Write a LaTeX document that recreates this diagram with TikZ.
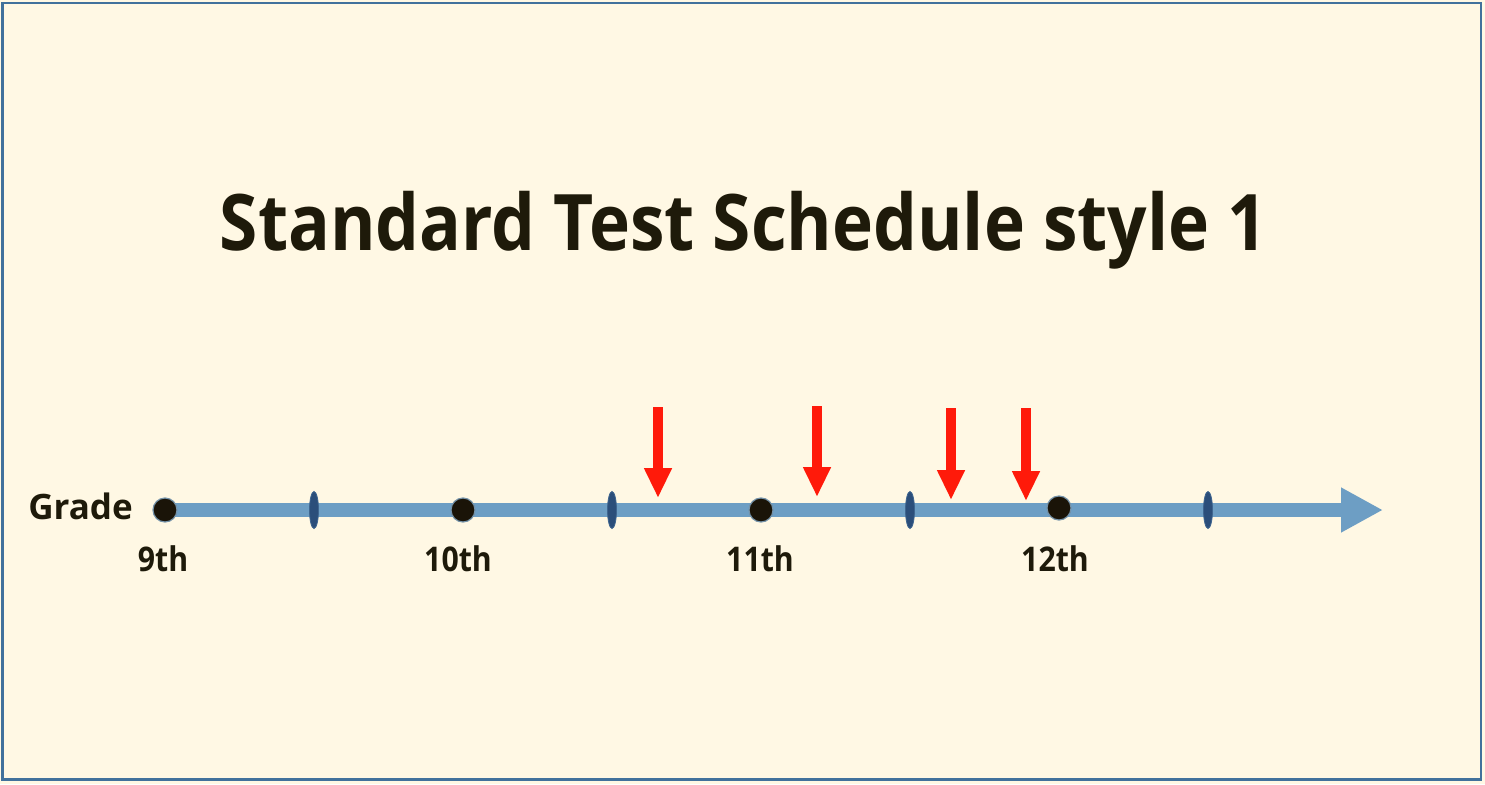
\documentclass[tikz,border=0pt]{standalone}
\usepackage{graphicx}
\usepackage{fontspec}
\setmainfont{Open Sans}
\usetikzlibrary{arrows.meta,shapes.geometric}
\definecolor{bg}{HTML}{FFF8E4}
\definecolor{frame}{HTML}{41719C}
\definecolor{axis}{HTML}{6D9EC4}
\definecolor{tickc}{HTML}{2B4E7A}
\definecolor{dotc}{HTML}{1A1408}
\definecolor{txt}{HTML}{1E1A0A}
\definecolor{redc}{HTML}{FF1A0A}
\newcommand{\narrow}[1]{\scalebox{0.89}[1]{#1}}
\tikzset{
  dotnode/.style={circle,fill=dotc,draw=axis!60!gray,line width=1.2pt,minimum size=24pt,inner sep=0pt},
  ticknode/.style={ellipse,fill=tickc,draw=tickc!70!axis,line width=0.8pt,minimum width=9pt,minimum height=37pt,inner sep=0pt},
  gradelbl/.style={text=txt,font=\bfseries\fontsize{34}{36}\selectfont,inner sep=0pt,anchor=base},
  redarrow/.style={draw=redc,line width=10pt,-{Triangle[width=26pt,length=30pt]}},
}
\begin{document}
\begin{tikzpicture}[x=1pt,y=-1pt]
\useasboundingbox (0,0) rectangle (1485,784);
\fill[bg] (0,0) rectangle (1485,784);
\draw[frame,line width=2.5pt] (2.5,3) rectangle (1481,779.5);
\node[text=txt,font=\bfseries\fontsize{78}{80}\selectfont,inner sep=0pt,anchor=base] (title) at (743.5,250) {\narrow{Standard Test Schedule style 1}};
\coordinate (start) at (165,510);
\coordinate (end) at (1383,510);
\draw[axis,line width=14pt,-{Triangle[width=42pt,length=42pt]}] (start) -- (end);
\foreach \x/\n in {314/t1,612/t2,910/t3,1208/t4}
  \node[ticknode] (\n) at (\x,510) {};
\node[dotnode] (d1) at (165,510) {};
\node[dotnode] (d2) at (463,510) {};
\node[dotnode] (d3) at (761,510) {};
\node[dotnode] (d4) at (1059,508) {};
\node[gradelbl,font=\bfseries\fontsize{35}{36}\selectfont,anchor=base east] (grade) at (133,519.5) {Grade};
\node[gradelbl] (l1) at (163,571) {\narrow{9th}};
\node[gradelbl] (l2) at (458,571) {\narrow{10th}};
\node[gradelbl] (l3) at (760,571) {\narrow{11th}};
\node[gradelbl] (l4) at (1055,571) {\narrow{12th}};
\coordinate (a1s) at (658,407); \coordinate (a1e) at (658,498);
\coordinate (a2s) at (817,406); \coordinate (a2e) at (817,497);
\coordinate (a3s) at (951,408); \coordinate (a3e) at (951,500);
\coordinate (a4s) at (1026,408); \coordinate (a4e) at (1026,501);
\draw[redarrow] (a1s) -- (a1e);
\draw[redarrow] (a2s) -- (a2e);
\draw[redarrow] (a3s) -- (a3e);
\draw[redarrow] (a4s) -- (a4e);
\end{tikzpicture}
\end{document}
